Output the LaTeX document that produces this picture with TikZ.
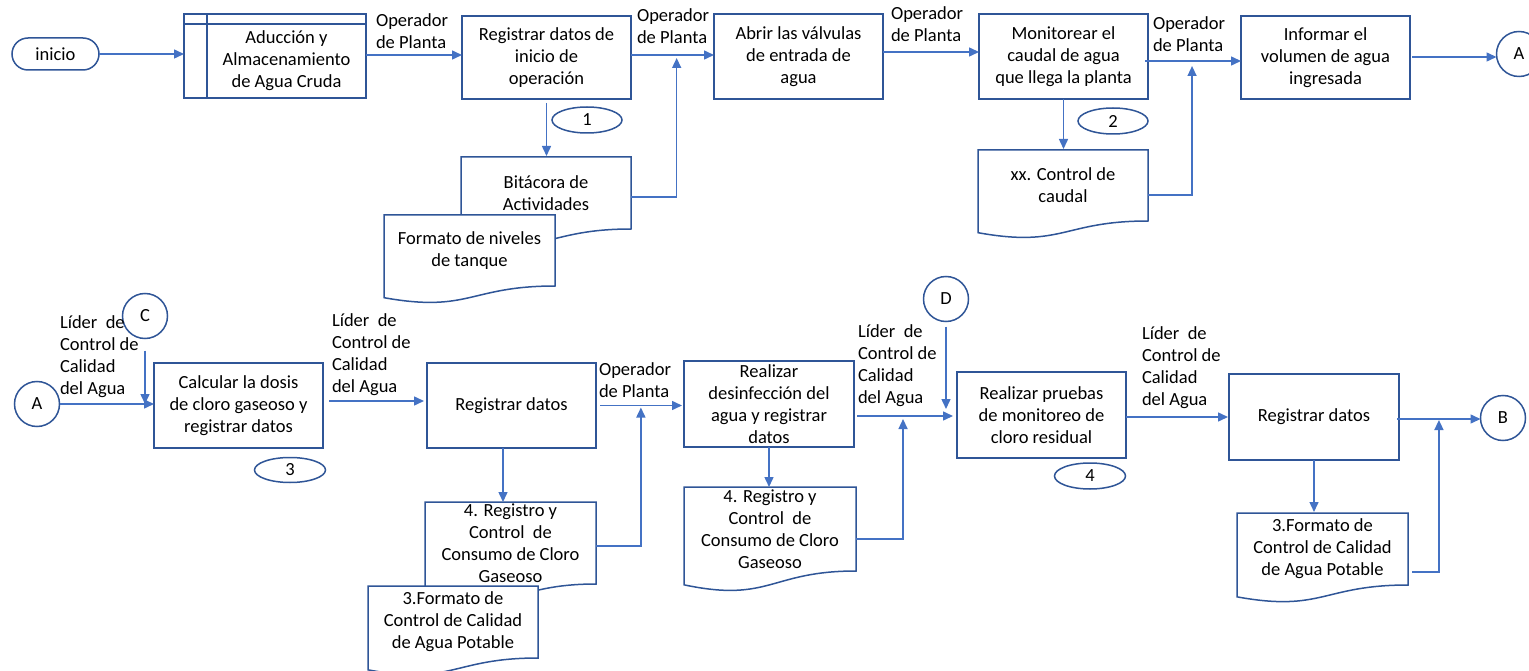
\documentclass[tikz,border=0pt]{standalone}
\usepackage{fontspec}
\setmainfont{Carlito}
\usetikzlibrary{arrows.meta,calc,shapes.geometric}
\definecolor{edge}{HTML}{2F5597}
\definecolor{flow}{HTML}{4472C4}
\tikzset{
  every node/.style={font=\fontsize{18.5}{22}\selectfont, inner sep=0pt, outer sep=0pt},
  proc/.style={rectangle, draw=edge, line width=1.5pt, fill=white, align=center,
               minimum width=169pt, minimum height=85pt},
  docarea/.style={rectangle, minimum width=170pt},
  docline/.style={draw=edge, line width=1.5pt, fill=white},
  txt/.style={align=center},
  lab/.style={align=left, anchor=west},
  conn/.style={circle, draw=edge, line width=1.5pt, fill=white, minimum size=45pt},
  tag/.style={ellipse, draw=edge, line width=1.5pt, fill=white, minimum width=70pt, minimum height=26pt},
  flow/.style={draw=flow, line width=1.5pt, -{Triangle[length=10pt,width=9pt]}},
}
% document symbol: rectangle part is the node, wavy bottom hangs below it
\newcommand{\docoutline}[1]{%
  \draw[docline] ($(#1.south west)!-0.1646!(#1.north west)$) -- (#1.north west)
    -- (#1.north east) -- (#1.south east)
    .. controls (#1.south) and ($(#1.south)!-0.381!(#1.north)$) ..
    ($(#1.south west)!-0.1646!(#1.north west)$) -- cycle;}
\begin{document}
\begin{tikzpicture}[x=1pt,y=-1pt]
\useasboundingbox (0,0) rectangle (1529,671);

% ---------------- upper row ----------------
\node[draw=edge, line width=1.5pt, rounded corners=16pt, minimum width=87pt, minimum height=32pt] (ini) at (55.5,54) {inicio};

\node[rectangle, draw=edge, line width=1.5pt, minimum width=182pt, minimum height=84pt] (adu) at (275,56) {};
\draw[draw=edge, line width=1.5pt] ([yshift=-10pt]adu.north west) -- ([yshift=-10pt]adu.north east);
\draw[draw=edge, line width=1.5pt] ([xshift=23pt]adu.north west) -- ([xshift=23pt]adu.south west);
\node[txt] (adu-t) at (286.5,61) {Aducción y\\Almacenamiento\\de Agua Cruda};

\node[proc, minimum height=83pt] (reg1) at (546.5,57.5) {Registrar datos de\\inicio de\\operación};
\node[proc] (abr) at (798.5,56.5) {Abrir las válvulas\\de entrada de\\agua};
\node[proc] (mon) at (1063.5,56.5) {Monitorear el\\caudal de agua\\que llega la planta};
\node[proc, minimum height=83pt] (inf) at (1325.5,57.5) {Informar el\\volumen de agua\\ingresada};
\node[conn] (cA1) at (1519,54) {A};

\node[tag] (t1) at (587,120) {1};
\node[tag] (t2) at (1113,121) {2};

\node[docarea, minimum height=72pt] (bit) at (546,193) {};
\node[docarea, minimum width=171pt, minimum height=71pt] (fmt1) at (469.5,250.5) {};
\node[docarea, minimum height=71pt] (ctl) at (1063,185.5) {};

\docoutline{bit}
\node[txt] (bit-t) at (bit) {Bitácora de\\Actividades};
\docoutline{fmt1}
\node[txt] (fmt1-t) at (fmt1) {Formato de niveles\\de tanque};
\docoutline{ctl}
\node[txt] (ctl-t) at (ctl) {xx. Control de\\caudal};

\node[lab] (l1) at (376,31) {Operador\\de Planta};
\node[lab] (l2) at (637,26.5) {Operador\\de Planta};
\node[lab] (l3) at (891,24.5) {Operador\\de Planta};
\node[lab] (l4) at (1153,34) {Operador\\de Planta};

\draw[flow] (ini.east) -- (ini.east -| adu.west);
\draw[flow] ([yshift=1pt]adu.east) -- ([yshift=1pt]adu.east -| reg1.west);
\draw[flow] ([yshift=2.5pt]reg1.east) -- ([yshift=2.5pt]reg1.east -| abr.west) coordinate[pos=0.55] (j1);
\draw[flow] ([yshift=4.5pt]abr.east) -- ([yshift=4.5pt]abr.east -| mon.west);
\draw[flow] ([xshift=-3pt,yshift=-4.5pt]mon.east) -- ([yshift=-4.5pt]mon.east -| inf.west) coordinate[pos=0.49] (j2);
\draw[flow] ([xshift=2pt,yshift=0.5pt]inf.east) -- ([yshift=0.5pt]inf.east -| cA1.west);
\draw[flow, shorten <=4pt, shorten >=1pt] (reg1.south) -- (reg1.south |- bit.north);
\draw[flow, shorten >=3pt] ([yshift=-4pt]bit.east) -| (j1);
\draw[flow, shorten >=1pt] (mon.south) -- (mon.south |- ctl.north);
\draw[flow, shorten >=5pt] ([yshift=-9.5pt]ctl.east) -| (j2);

% ---------------- lower row ----------------
\node[conn] (cA2) at (37,404) {A};
\node[conn] (cC) at (145,316) {C};
\node[conn] (cD) at (946,299) {D};
\node[conn] (cB) at (1503,418) {B};

\node[proc] (calc) at (238.5,405.5) {Calcular la dosis\\de cloro gaseoso y\\registrar datos};
\node[proc] (reg2) at (511.5,405.5) {Registrar datos};
\node[proc, minimum width=170pt, minimum height=86pt] (des) at (769,404) {Realizar\\desinfección del\\agua y registrar\\datos};
\node[proc, minimum height=86pt] (pru) at (1041.5,415) {Realizar pruebas\\de monitoreo de\\cloro residual};
\node[proc, minimum width=170pt, minimum height=86pt] (reg3) at (1314,417) {Registrar datos};

\node[tag, minimum width=71pt, minimum height=25pt] (t3) at (290,470) {3};
\node[tag, minimum width=71pt] (t4) at (1090,476) {4};

\node[docarea, minimum width=171pt, minimum height=82pt] (d4a) at (510.5,543) {};
\node[docarea, minimum height=72pt] (fmt2) at (453,622) {};
\node[docarea, minimum width=172pt, minimum height=84pt] (d4b) at (770,529) {};
\node[docarea, minimum width=171pt, minimum height=72pt] (fmt3) at (1322.5,549) {};

\docoutline{d4a}
\node[txt] (d4a-t) at (d4a) {4. Registro y\\Control\ \ de\\Consumo de Cloro\\Gaseoso};
\docoutline{fmt2}
\node[txt] (fmt2-t) at (fmt2) {3.Formato de\\Control de Calidad\\de Agua Potable};
\docoutline{d4b}
\node[txt] (d4b-t) at (d4b) {4. Registro y\\Control\ \ de\\Consumo de Cloro\\Gaseoso};
\docoutline{fmt3}
\node[txt] (fmt3-t) at (fmt3) {3.Formato de\\Control de Calidad\\de Agua Potable};

\node[lab] (l5) at (60,356.5) {Líder\ \ de\\Control de\\Calidad\\del Agua};
\node[lab] (l6) at (332,355) {Líder\ \ de\\Control de\\Calidad\\del Agua};
\node[lab] (l7) at (599,380.5) {Operador\\de Planta};
\node[lab] (l8) at (858,365.5) {Líder\ \ de\\Control de\\Calidad\\del Agua};
\node[lab] (l9) at (1142,368) {Líder\ \ de\\Control de\\Calidad\\del Agua};

\draw[flow] (cA2.east) -- (cA2.east -| calc.west);
\draw[flow, shorten <=12pt] (cC.south) -- (cC.south |- cA2.east);
\draw[flow, shorten <=6pt, shorten >=3pt] ([yshift=4.5pt]calc.east) -- ([yshift=4.5pt]calc.east -| reg2.west);
\coordinate (r2s) at ([xshift=-8.5pt]reg2.south);
\draw[flow] (r2s) -- (r2s |- d4a.north);
\draw[flow, shorten <=4pt, shorten >=2pt] (reg2.east) -- (reg2.east -| des.west) coordinate[pos=0.51] (j3);
\draw[flow, shorten >=2pt] ([yshift=-3pt]d4a.east) -| (j3);
\draw[flow] (des.south) -- (des.south |- d4b.north);
\draw[flow, shorten <=3pt, shorten >=4pt] ([yshift=-12pt]des.east) -- ([yshift=-12pt]des.east -| pru.west) coordinate[pos=0.476] (j4);
\draw[flow, shorten >=3pt] ([yshift=-10pt]d4b.east) -| (j4);
\draw[flow, shorten <=5pt, shorten >=7pt] (cD.south) -- (cD.south |- j4);
\draw[flow, shorten >=1pt] ([yshift=-2pt]pru.east) -- ([yshift=-2pt]pru.east -| reg3.west);
\draw[flow, shorten >=1pt] (reg3.south) -- (reg3.south |- fmt3.north);
\draw[flow, shorten <=-2pt] ([yshift=-2pt]reg3.east) -- ([yshift=-2pt]reg3.east -| cB.west) coordinate[pos=0.49] (j5);
\coordinate (f3e) at ([xshift=4pt,yshift=-23pt]fmt3.east);
\draw[flow, shorten >=1pt] (f3e) -| (j5);
\end{tikzpicture}
\end{document}
